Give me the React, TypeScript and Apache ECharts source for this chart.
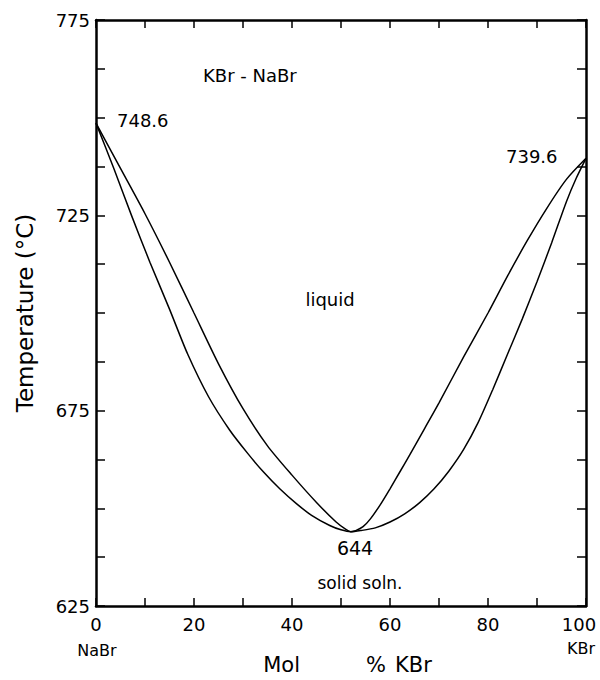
import React, { useEffect, useRef } from "react";
import * as echarts from "echarts";

// Liquidus (upper curve) — mol % KBr vs temperature (°C)
const liquidusX = [0, 5, 10, 15, 20, 25, 30, 35, 40, 45, 49, 51, 52, 53, 54.5, 56, 58, 60, 62, 64, 67, 70, 75, 80, 84, 88, 92, 96, 100];
const liquidusT = [748.6, 737, 725.4, 713, 700, 687, 675.5, 666, 658.5, 651.5, 646.5, 644.6, 644, 644.3, 645.3, 647.3, 650.9, 655, 659.3, 663.6, 670.3, 677, 688.7, 700, 709.5, 718.5, 726.8, 734.2, 739.6];

// Solidus (lower curve)
const solidusX = [0, 3.7, 7.3, 11, 15, 18.7, 23, 27.3, 31, 34.1, 37.5, 40.9, 44, 47.7, 50, 52, 54, 57, 60, 63, 66, 69, 72, 75, 78, 81, 84, 87, 90, 93, 96, 98, 100];
const solidusT = [748.6, 736.8, 724.8, 713, 701, 689.5, 678.5, 670, 664, 659.4, 655, 651.2, 648.2, 645.6, 644.5, 644, 644.3, 645, 646.5, 648.6, 651.4, 655, 659.5, 665, 672, 680.5, 689.5, 698.5, 708, 718, 728.5, 734.5, 739.6];

const xLabelTicks = [0, 20, 40, 60, 80, 100];
const yLabelTicks = [625, 675, 725, 775];

const FONT = "DejaVu Sans";

export default function App() {
  const ref = useRef<HTMLDivElement>(null);
  useEffect(() => {
    document.body.style.margin = "0";
    const chart = echarts.init(ref.current!, null, { renderer: "svg" });
    const lineAxis = () => ({ show: true, onZero: false, lineStyle: { color: "#000", width: 2.5 } });
    const tick = (len: number) => ({ show: true, inside: true, length: len, lineStyle: { color: "#000", width: 1.5 } });
    const txt = (text: string, x: number, y: number, size: number, align = "left") => ({
      type: "text",
      x,
      y,
      style: { text, fill: "#000", font: `${size}px "${FONT}"`, textAlign: align, textVerticalAlign: "middle" },
    });
    const curve = (name: string, xs: number[], ts: number[]) => ({
      name,
      type: "line",
      xAxisIndex: 0,
      yAxisIndex: 0,
      data: xs.map((x, i) => [x, ts[i]]),
      smooth: 0.25,
      showSymbol: false,
      symbol: "none",
      lineStyle: { color: "#000", width: 1.5 },
    });
    chart.setOption({
      animation: false,
      backgroundColor: "#fff",
      grid: { left: 96, top: 20, width: 490, height: 589, containLabel: false },
      xAxis: [
        {
          type: "value",
          min: 0,
          max: 100,
          interval: 10,
          position: "bottom",
          axisLine: lineAxis(),
          axisTick: tick(8),
          splitLine: { show: false },
          axisLabel: {
            color: "#000",
            fontFamily: FONT,
            fontSize: 18,
            margin: 9,
            formatter: (v: number) => (xLabelTicks.includes(v) ? (v === 100 ? "{r|100}" : String(v)) : ""),
            rich: { r: { fontFamily: FONT, fontSize: 18, color: "#000", padding: [0, 14, 0, 0] } },
          },
          name: "{m|Mol}{p|%}{k|KBr}",
          nameLocation: "middle",
          nameGap: 48,
          nameTextStyle: {
            rich: {
              m: { fontFamily: FONT, fontSize: 21, color: "#000", padding: [0, 66, 0, 13] },
              p: { fontFamily: FONT, fontSize: 21, color: "#000", padding: [0, 9, 0, 0] },
              k: { fontFamily: FONT, fontSize: 21, color: "#000" },
            },
          },
        },
        {
          type: "value",
          min: 0,
          max: 100,
          interval: 10,
          position: "top",
          axisLine: lineAxis(),
          axisTick: tick(8),
          axisLabel: { show: false },
          splitLine: { show: false },
        },
      ],
      yAxis: [
        {
          type: "value",
          min: 625,
          max: 775,
          interval: 12.5,
          position: "left",
          axisLine: lineAxis(),
          axisTick: tick(9),
          splitLine: { show: false },
          axisLabel: {
            color: "#000",
            fontFamily: FONT,
            fontSize: 18,
            margin: 6,
            formatter: (v: number) => (yLabelTicks.includes(v) ? String(v) : ""),
          },
          name: "Temperature (°C)",
          nameLocation: "middle",
          nameGap: 60,
          nameTextStyle: { fontFamily: FONT, fontSize: 23, color: "#000" },
        },
        {
          type: "value",
          min: 625,
          max: 775,
          interval: 12.5,
          position: "right",
          axisLine: lineAxis(),
          axisTick: tick(9),
          axisLabel: { show: false },
          splitLine: { show: false },
        },
      ],
      series: [curve("liquidus", liquidusX, liquidusT), curve("solidus", solidusX, solidusT)],
      graphic: [
        txt("KBr - NaBr", 203, 75, 18),
        txt("748.6", 117, 120, 18),
        txt("739.6", 506, 156, 18),
        txt("liquid", 330, 299, 18, "center"),
        txt("644", 355, 548, 19, "center"),
        txt("solid soln.", 360, 583, 17, "center"),
        txt("NaBr", 97, 650, 16, "center"),
        txt("KBr", 581, 648, 16, "center"),
      ],
    });
    return () => chart.dispose();
  }, []);
  return <div ref={ref} style={{ width: 600, height: 680 }} />;
}
